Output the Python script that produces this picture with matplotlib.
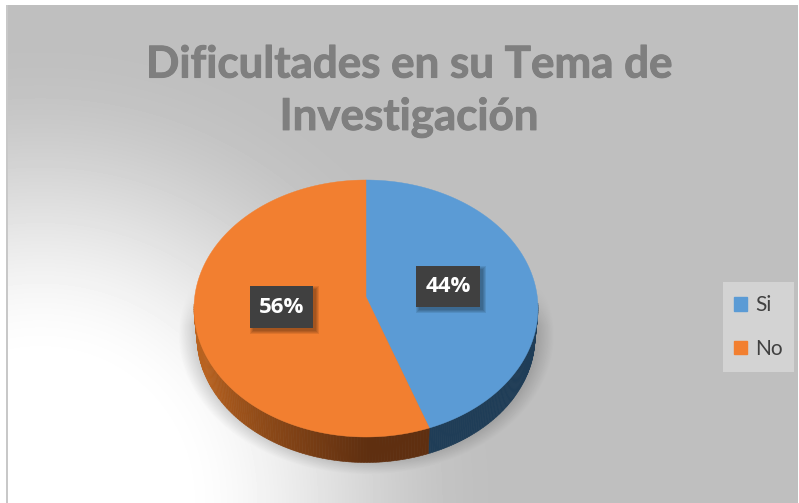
import matplotlib
matplotlib.use('Agg')
import matplotlib.pyplot as plt
import matplotlib.patheffects as path_effects
from matplotlib.patches import Rectangle
from matplotlib.colors import to_rgb
import numpy as np

title = 'Dificultades en su Tema de\nInvestigación'
categories = ['Si', 'No']
shares = [44, 56]
top_colors = ['#5b9bd5', '#f27f30']
side_dark = ['#1f3d57', '#5f2f10']
side_light = ['#1f3d57', '#b8621f']
label_boxes = [(416, 266, 64, 41), (250, 286, 63, 42)]

W, H = 799, 503
fig = plt.figure(figsize=(W / 100, H / 100), dpi=100, facecolor='white')
ax = fig.add_axes([0, 0, 1, 1])
ax.axis('off')
plt.rcParams['font.family'] = ['Lato', 'DejaVu Sans']

# background, light corner bottom left
xx, yy = np.meshgrid(np.arange(7, 798), np.arange(5, 503))
t = np.clip((np.hypot(xx - 40, yy - 500) - 130) / 330, 0, 1)
t = t * t * (3 - 2 * t)
bg = 255 - (255 - 191) * t

# soft shadow under the pie
d = np.hypot((xx - 366) / 188, (yy - 335) / 139)
s1 = np.clip((1.0 - d) / 0.2, 0, 1) * np.clip((yy - 285) / 40, 0, 1)
bg = bg * (1 - 0.34 * s1)
ax.imshow(bg, cmap='gray', vmin=0, vmax=255, extent=(7, 798, 503, 5), aspect='auto', interpolation='bilinear', zorder=0)
ax.set_xlim(0, W)
ax.set_ylim(H, 0)
ax.add_patch(Rectangle((6, 5), 2, H - 5, color='#c8c8c8', lw=0, zorder=1))

# pie, drawn clockwise from the top
cx, cy, rx, ry = 366, 308.5, 172, 128.5
cx2, cy2, rx2, ry2 = 366, 337, 169, 125.5
apex_y = 297
edges = np.cumsum([0] + shares) / sum(shares) * 2 * np.pi

for i in range(len(shares)):
    th = np.linspace(edges[i], edges[i + 1], 200)
    # side wall only on the front half
    front = th[(th > np.pi / 2 - 0.05) & (th < 3 * np.pi / 2 + 0.05)]
    c_dark, c_light = np.array(to_rgb(side_dark[i])), np.array(to_rgb(side_light[i]))
    for a, b in zip(front[:-1], front[1:]):
        f = np.clip((b - np.pi) / (np.pi / 2 - 0.35), 0, 1)
        col = c_dark + (c_light - c_dark) * f
        ax.fill([cx + rx * np.sin(a), cx + rx * np.sin(b), cx2 + rx2 * np.sin(b), cx2 + rx2 * np.sin(a)],
                [cy - ry * np.cos(a), cy - ry * np.cos(b), cy2 - ry2 * np.cos(b), cy2 - ry2 * np.cos(a)],
                color=col, lw=0.4, zorder=2)

for i in range(len(shares)):
    th = np.linspace(edges[i], edges[i + 1], 200)
    px = np.r_[cx, cx + rx * np.sin(th)]
    py = np.r_[apex_y, cy - ry * np.cos(th)]
    ax.fill(px, py, color=top_colors[i], lw=0.3, zorder=3)

# data labels
for v, (bx, by, bw, bh) in zip(shares, label_boxes):
    for k in range(4, 0, -1):
        ax.add_patch(Rectangle((bx + 4 - k, by + 4 - k), bw + 2 * k - 2, bh + 2 * k - 2, color='black', alpha=0.09, lw=0, zorder=4))
    ax.add_patch(Rectangle((bx, by), bw, bh, color='#404040', lw=0, zorder=5))
    ax.text(bx + bw / 2, by + bh / 2 + 0.5, f'{v}%', color='white', fontsize=16, fontweight='bold',
            family='Open Sans', ha='center', va='center', zorder=6)

txt = ax.text(409, 91, title, color='#7f7f7f', fontsize=31.6, fontweight='bold', ha='center', va='center',
              linespacing=1.375, zorder=6)
txt.set_path_effects([path_effects.withStroke(linewidth=0.7, foreground='#7f7f7f')])

# legend
ax.add_patch(Rectangle((723, 282), 71, 90, color='#d3d3d3', lw=0, zorder=5))
handles = [Rectangle((0, 0), 1, 1, color=c) for c in top_colors]
leg = ax.legend(handles, categories, loc='center', bbox_to_anchor=(758.5, 327), bbox_transform=ax.transData,
                fontsize=15, frameon=False,
                handlelength=0.62, handleheight=0.62, handletextpad=0.42, labelspacing=1.13,
                borderpad=0.48, borderaxespad=0, labelcolor='#404040')
leg.set_zorder(6)

fig.savefig('out.png', dpi=100)
